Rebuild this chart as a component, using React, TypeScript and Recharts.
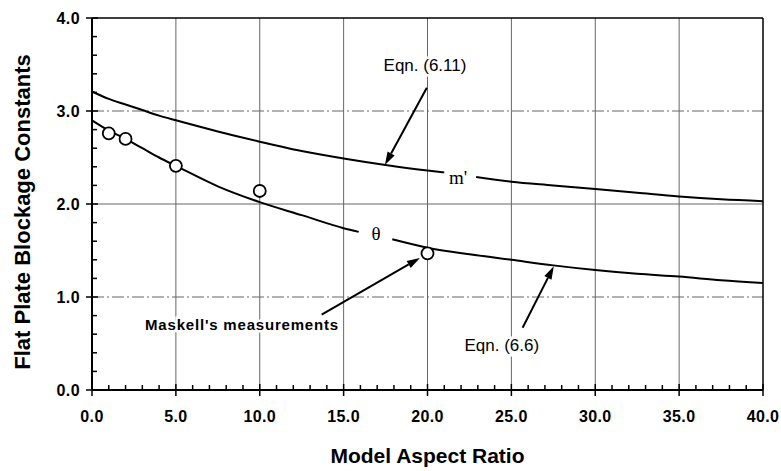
import { ComposedChart, Line, Scatter, XAxis, YAxis, ReferenceLine, ReferenceDot, Label } from 'recharts';

// axis ticks (minor every 1 / 0.2, labelled every 5 / 1)
const xTicks = [0, 1, 2, 3, 4, 5, 6, 7, 8, 9, 10, 11, 12, 13, 14, 15, 16, 17, 18, 19, 20, 21, 22, 23, 24, 25, 26, 27, 28, 29, 30, 31, 32, 33, 34, 35, 36, 37, 38, 39, 40];
const yTicks = [0, 0.2, 0.4, 0.6, 0.8, 1, 1.2, 1.4, 1.6, 1.8, 2, 2.2, 2.4, 2.6, 2.8, 3, 3.2, 3.4, 3.6, 3.8, 4];
const gridX = [5, 10, 15, 20, 25, 30, 35];
const gridY = [1, 2, 3];

// Eqn. (6.11), m'
const mPrimeX = [0, 1, 2, 3, 4, 5, 7.5, 10, 12.5, 15, 17.5, 20, 21, 22, 22.9, 25, 27.5, 30, 32.5, 35, 37.5, 40];
const mPrimeY = [3.21, 3.13, 3.07, 3.01, 2.95, 2.9, 2.78, 2.67, 2.57, 2.49, 2.42, 2.36, 2.34, null, 2.29, 2.24, 2.2, 2.16, 2.12, 2.08, 2.05, 2.03];

// Eqn. (6.6), theta
const thetaX = [0, 1, 2, 3, 4, 5, 7.5, 10, 12.5, 15, 15.9, 16.9, 17.9, 20, 22.5, 25, 27.5, 30, 32.5, 35, 37.5, 40];
const thetaY = [2.9, 2.79, 2.7, 2.6, 2.5, 2.41, 2.19, 2.02, 1.88, 1.74, 1.7, null, 1.62, 1.53, 1.46, 1.4, 1.34, 1.29, 1.25, 1.22, 1.18, 1.15];

// Maskell's measurements
const measX = [1, 2, 5, 10, 20];
const measY = [2.76, 2.7, 2.41, 2.14, 1.47];

// curve names
const curveNames = ["m'", 'θ'];
const curveNameX = [21.83, 16.93];
const curveNameY = [2.28, 1.68];

// annotations with arrows
const notes = ['Eqn. (6.11)', "Maskell's measurements", 'Eqn. (6.6)'];
const noteX = [19.85, 8.94, 24.43];
const noteY = [3.49, 0.7, 0.48];
const arrowFromX = [19.96, 13.69, 25.67];
const arrowFromY = [3.25, 0.81, 0.67];
const arrowToX = [17.46, 19.55, 27.53];
const arrowToY = [2.42, 1.42, 1.33];

const mPrimeData = mPrimeX.map((x, i) => ({ x, y: mPrimeY[i] }));
const thetaData = thetaX.map((x, i) => ({ x, y: thetaY[i] }));
const measData = measX.map((x, i) => ({ x, y: measY[i] }));

const SANS = '"Liberation Sans", Arial, sans-serif';
const SERIF = '"Liberation Serif", "Times New Roman", serif';

const XTick = (props: any) => {
  const { x, y, payload } = props;
  const v = payload.value;
  const major = v % 5 === 0;
  return (
    <g>
      <line x1={x} x2={x} y1={major ? y - 6 : y - 5} y2={major ? y + 6 : y} stroke="#000" strokeWidth={1.5} />
      {major && (
        <text x={x} y={y + 32} textAnchor="middle" fontFamily={SANS} fontWeight="bold" fontSize={16} letterSpacing={0.4} fill="#000">
          {v.toFixed(1)}
        </text>
      )}
    </g>
  );
};

const YTick = (props: any) => {
  const { x, y, payload } = props;
  const v = payload.value;
  const major = Math.abs(v - Math.round(v)) < 1e-6;
  return (
    <g>
      <line x1={major ? x - 6 : x} x2={major ? x + 6 : x + 5} y1={y} y2={y} stroke="#000" strokeWidth={1.5} />
      {major && (
        <text x={x - 12} y={y + 6} textAnchor="end" fontFamily={SANS} fontWeight="bold" fontSize={16} letterSpacing={0.4} fill="#000">
          {v.toFixed(1)}
        </text>
      )}
    </g>
  );
};

const Arrow = (p: any) => {
  const { x1, y1, x2, y2 } = p;
  const ang = Math.atan2(y2 - y1, x2 - x1);
  const len = 13;
  const w = 4;
  const bx = x2 - len * Math.cos(ang);
  const by = y2 - len * Math.sin(ang);
  const pts = `${x2},${y2} ${bx + w * Math.sin(ang)},${by - w * Math.cos(ang)} ${bx - w * Math.sin(ang)},${by + w * Math.cos(ang)}`;
  return (
    <g>
      <line x1={x1} y1={y1} x2={bx} y2={by} stroke="#000" strokeWidth={2} />
      <polygon points={pts} fill="#000" />
    </g>
  );
};

const Circle = (p: any) => <circle cx={p.cx} cy={p.cy} r={6} fill="#fff" stroke="#000" strokeWidth={1.8} />;

export default function App() {
  return (
    <div style={{ position: 'absolute', left: 0, top: 0, background: '#fff' }}>
      <ComposedChart width={781} height={471} margin={{ top: 18, right: 18, bottom: 0, left: 0 }}>
        <XAxis
          type="number"
          dataKey="x"
          domain={[0, 40]}
          ticks={xTicks}
          interval={0}
          tickSize={0}
          tickMargin={0}
          tick={<XTick />}
          height={81}
          axisLine={{ stroke: '#000', strokeWidth: 2 }}
          tickLine={false}
        >
          <Label
            content={({ viewBox }: any) => (
              <text x={viewBox.x + viewBox.width / 2} y={viewBox.y + 73} textAnchor="middle" fontFamily={SANS} fontWeight="bold" fontSize={21} fill="#000">
                Model Aspect Ratio
              </text>
            )}
          />
        </XAxis>
        <YAxis
          type="number"
          domain={[0, 4]}
          ticks={yTicks}
          interval={0}
          tickSize={0}
          tickMargin={0}
          tick={<YTick />}
          width={92}
          axisLine={{ stroke: '#000', strokeWidth: 2 }}
          tickLine={false}
        >
          <Label
            content={({ viewBox }: any) => {
              const cx = 22;
              const cy = viewBox.y + viewBox.height / 2 + 8;
              return (
                <text x={cx} y={cy} transform={`rotate(-90, ${cx}, ${cy})`} textAnchor="middle" dominantBaseline="central" fontFamily={SANS} fontWeight="bold" fontSize={22} fill="#000">
                  Flat Plate Blockage Constants
                </text>
              );
            }}
          />
        </YAxis>

        {gridX.map((v) => (
          <ReferenceLine key={'gx' + v} x={v} stroke="#666" strokeWidth={1} />
        ))}
        {gridY.map((v) => (
          <ReferenceLine key={'gy' + v} y={v} stroke="#666" strokeWidth={1} strokeDasharray={v === 2 ? undefined : '12 3 2 3'} />
        ))}
        <ReferenceLine y={4} stroke="#000" strokeWidth={1.5} />
        <ReferenceLine x={40} stroke="#000" strokeWidth={1.5} />

        <Line data={mPrimeData} dataKey="y" type="monotone" stroke="#000" strokeWidth={2} dot={false} isAnimationActive={false} />
        <Line data={thetaData} dataKey="y" type="monotone" stroke="#000" strokeWidth={2} dot={false} isAnimationActive={false} />
        <Scatter data={measData} dataKey="y" shape={Circle} isAnimationActive={false} />

        {curveNames.map((t, i) => (
          <ReferenceDot
            key={t}
            x={curveNameX[i]}
            y={curveNameY[i]}
            shape={(p: any) => (
              <text x={p.cx} y={p.cy} textAnchor="middle" dominantBaseline="central" fontFamily={SERIF} fontSize={19} fill="#000">
                {t}
              </text>
            )}
          />
        ))}

        {notes.map((t, i) => (
          <ReferenceLine
            key={'a' + i}
            segment={[
              { x: arrowFromX[i], y: arrowFromY[i] },
              { x: arrowToX[i], y: arrowToY[i] },
            ]}
            shape={Arrow}
          />
        ))}
        {notes.map((t, i) => (
          <ReferenceDot
            key={t}
            x={noteX[i]}
            y={noteY[i]}
            shape={(p: any) => (
              <text
                x={p.cx}
                y={p.cy}
                textAnchor="middle"
                dominantBaseline="central"
                fontFamily={SANS}
                fontSize={i === 1 ? 15 : 17}
                fontWeight={i === 1 ? 'bold' : 'normal'}
                letterSpacing={i === 1 ? 0.8 : 0}
                fill="#000"
                stroke="#fff"
                strokeWidth={5}
                paintOrder="stroke"
              >
                {t}
              </text>
            )}
          />
        ))}
      </ComposedChart>
    </div>
  );
}
